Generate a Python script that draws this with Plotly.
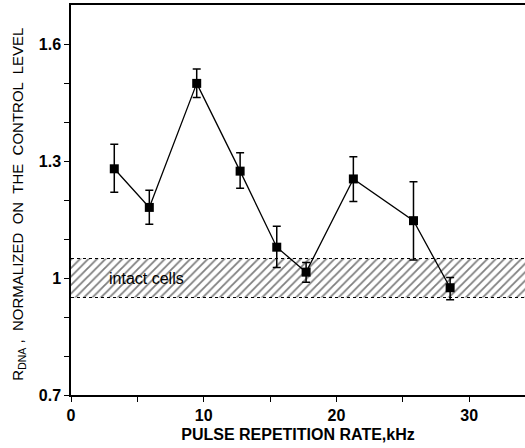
import plotly.graph_objects as go

# Data
freq_khz = [3.26, 5.90, 9.47, 12.74, 15.50, 17.71, 21.27, 25.80, 28.56]
r_dna = [1.280, 1.181, 1.499, 1.274, 1.079, 1.015, 1.254, 1.147, 0.975]
err_upper = [1.343, 1.225, 1.536, 1.321, 1.133, 1.040, 1.311, 1.247, 1.001]
err_lower = [1.220, 1.138, 1.463, 1.230, 1.027, 0.989, 1.196, 1.046, 0.944]

band_low = 0.95
band_high = 1.05
band_label = "intact cells"

x_range = [0, 34.2]
y_range = [0.7, 1.7]
x_ticks = [0, 10, 20, 30]
y_ticks = [0.7, 1.0, 1.3, 1.6]
y_ticklabels = ["0.7", "1", "1.3", "1.6"]

err_plus = [u - v for u, v in zip(err_upper, r_dna)]
err_minus = [v - l for v, l in zip(r_dna, err_lower)]

font_family = "Liberation Sans, Arial, sans-serif"

fig = go.Figure()

# hatched control band
fig.add_trace(go.Scatter(
    x=[x_range[0], x_range[1], x_range[1], x_range[0], x_range[0]],
    y=[band_low, band_low, band_high, band_high, band_low],
    fill="toself", mode="lines", line=dict(width=0),
    fillcolor="rgba(0,0,0,0)",
    fillpattern=dict(shape="/", fgcolor="black", bgcolor="white", size=6, solidity=0.3),
    hoverinfo="skip", showlegend=False))
for yb in (band_low, band_high):
    fig.add_trace(go.Scatter(
        x=x_range, y=[yb, yb], mode="lines",
        line=dict(color="black", width=1.2, dash="dot"),
        hoverinfo="skip", showlegend=False))

# data series
fig.add_trace(go.Scatter(
    x=freq_khz, y=r_dna, mode="lines+markers",
    line=dict(color="black", width=1.3),
    marker=dict(symbol="square", size=9, color="black"),
    error_y=dict(type="data", symmetric=False, array=err_plus, arrayminus=err_minus,
                 color="black", thickness=1.5, width=4),
    showlegend=False))

fig.add_annotation(x=2.7, y=1.0, xref="x", yref="y", text=band_label,
                   showarrow=False, xanchor="left", yanchor="middle",
                   font=dict(family=font_family, size=16, color="black"),
                   bgcolor="rgba(0,0,0,0)")

fig.add_annotation(x=-0.115, y=0.49, xref="paper", yref="paper",
                   text="R<sub>DNA</sub> ,  NORMALIZED  ON  THE  CONTROL  LEVEL",
                   textangle=-90, showarrow=False, xanchor="center", yanchor="middle",
                   font=dict(family=font_family, size=15, color="black"))

fig.update_layout(
    width=525, height=448,
    margin=dict(l=71, r=0, t=5, b=53),
    paper_bgcolor="white", plot_bgcolor="white",
    font=dict(family=font_family, color="black"),
)
fig.update_xaxes(
    range=x_range, tickvals=x_ticks, ticktext=[str(t) for t in x_ticks],
    minor=dict(tickvals=[5, 15, 25], ticks="outside", ticklen=5, tickcolor="black", tickwidth=1.3),
    ticks="outside", ticklen=5, tickwidth=1.3, tickcolor="black",
    showline=True, linecolor="black", linewidth=1.5, mirror=True,
    showgrid=False, zeroline=False,
    tickfont=dict(family=font_family, size=16, color="black", weight="bold"),
    title=dict(text="PULSE REPETITION RATE,kHz", standoff=6,
               font=dict(family=font_family, size=16, color="black", weight="bold")),
)
fig.update_yaxes(
    range=y_range, tickvals=y_ticks, ticktext=y_ticklabels,
    minor=dict(tickvals=[0.8, 0.9, 1.1, 1.2, 1.4, 1.5], ticks="outside", ticklen=5,
               tickcolor="black", tickwidth=1.3),
    ticks="outside", ticklen=5, tickwidth=1.3, tickcolor="black",
    showline=True, linecolor="black", linewidth=1.5,
    showgrid=False, zeroline=False,
    tickfont=dict(family=font_family, size=16, color="black", weight="bold"),
)

fig.write_html("out.html")
